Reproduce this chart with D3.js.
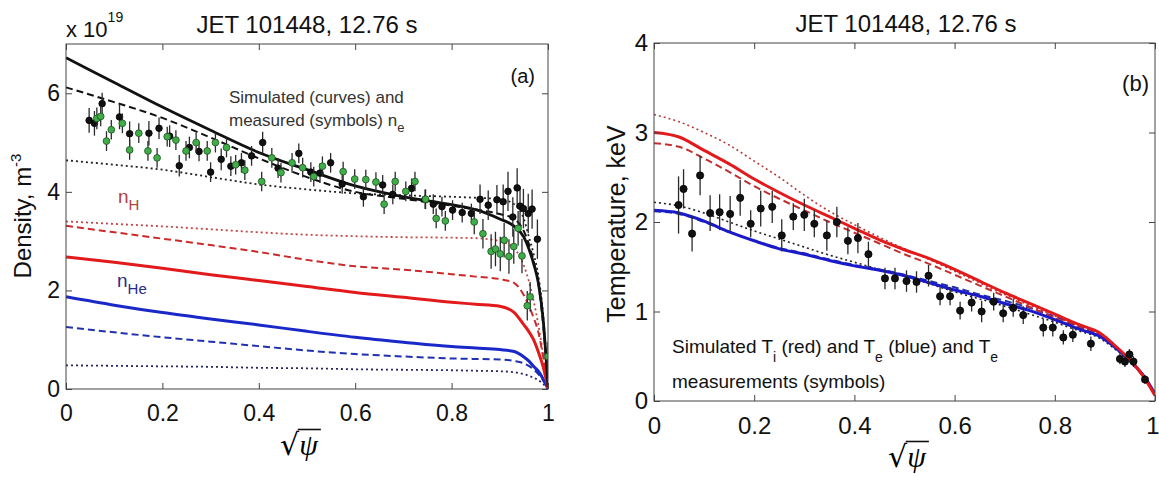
<!DOCTYPE html>
<html>
<head>
<meta charset="utf-8">
<script src="https://cdn.jsdelivr.net/npm/d3@7"></script>
<style>
  html, body { margin: 0; padding: 0; background: #fff; }
  svg { display: block; font-family: "Liberation Sans", Arial, Helvetica, sans-serif; }
</style>
</head>
<body>
<svg id="fig" width="1159" height="477"></svg>
<script>
// ===== DATA: panel (a), densities in 1e19 m^-3 =====
const psiA     = [0, 0.1, 0.2, 0.3, 0.4, 0.5, 0.6, 0.7, 0.8, 0.85, 0.9, 0.93, 0.95, 0.96, 0.97, 0.98, 0.99, 1.0];
const neSolid  = [6.72, 6.22, 5.72, 5.25, 4.80, 4.45, 4.12, 3.90, 3.74, 3.64, 3.45, 3.30, 3.08, 2.85, 2.55, 2.15, 1.40, 0.05];
const neDash   = [6.12, 5.82, 5.50, 5.10, 4.68, 4.30, 4.00, 3.86, 3.72, 3.64, 3.55, 3.45, 3.20, 2.95, 2.60, 2.15, 1.30, 0.05];
const neDot    = [4.64, 4.55, 4.45, 4.30, 4.15, 4.05, 3.97, 3.93, 3.90, 3.88, 3.85, 3.75, 3.45, 3.10, 2.75, 2.30, 1.50, 0.10];
const nHSolid  = [2.68, 2.57, 2.45, 2.32, 2.20, 2.08, 1.96, 1.86, 1.76, 1.72, 1.68, 1.55, 1.30, 1.17, 1.00, 0.75, 0.45, 0.02];
const nHDash   = [3.31, 3.18, 3.05, 2.92, 2.78, 2.62, 2.49, 2.42, 2.33, 2.28, 2.23, 2.15, 1.90, 1.70, 1.45, 1.15, 0.65, 0.02];
const nHDot    = [3.40, 3.35, 3.30, 3.24, 3.18, 3.13, 3.10, 3.08, 3.07, 3.06, 3.00, 2.85, 2.50, 2.20, 1.80, 1.30, 0.70, 0.02];
const nHeSolid = [1.87, 1.70, 1.55, 1.42, 1.30, 1.17, 1.05, 0.95, 0.86, 0.83, 0.80, 0.76, 0.65, 0.57, 0.46, 0.36, 0.20, 0.00];
const nHeDash  = [1.26, 1.15, 1.05, 0.96, 0.87, 0.78, 0.71, 0.66, 0.62, 0.61, 0.60, 0.57, 0.52, 0.47, 0.40, 0.30, 0.17, 0.00];
const nHeDot   = [0.48, 0.47, 0.46, 0.45, 0.43, 0.42, 0.40, 0.39, 0.38, 0.37, 0.36, 0.34, 0.30, 0.27, 0.23, 0.18, 0.10, 0.00];

// measured ne, black symbols
const hrtsX   = [0.048, 0.059, 0.075, 0.111, 0.132, 0.172, 0.193, 0.215, 0.235, 0.256, 0.276, 0.300, 0.322, 0.342,
                 0.364, 0.385, 0.408, 0.440, 0.483, 0.508, 0.527, 0.549, 0.573, 0.617, 0.657, 0.678, 0.717, 0.745,
                 0.762, 0.780, 0.802, 0.822, 0.841, 0.859, 0.876, 0.894, 0.907, 0.917, 0.927, 0.936, 0.942, 0.949,
                 0.959, 0.967, 0.978];
const hrtsY   = [5.45, 5.39, 5.79, 5.52, 5.18, 5.19, 5.29, 5.13, 4.53, 4.90, 4.82, 4.40, 4.66, 4.52,
                 4.59, 4.73, 5.00, 4.48, 4.78, 4.40, 4.38, 4.59, 4.16, 3.90, 4.14, 3.95, 4.07, 3.85,
                 3.75, 3.70, 3.63, 3.58, 3.56, 3.85, 3.73, 3.84, 3.80, 4.01, 3.49, 4.08, 3.71, 3.66,
                 3.56, 3.65, 3.04];
const hrtsErr = [0.25, 0.25, 0.22, 0.25, 0.25, 0.25, 0.22, 0.22, 0.22, 0.22, 0.2, 0.2, 0.22, 0.2,
                 0.2, 0.2, 0.22, 0.2, 0.2, 0.2, 0.2, 0.2, 0.2, 0.2, 0.2, 0.2, 0.2, 0.2,
                 0.2, 0.2, 0.2, 0.2, 0.2, 0.3, 0.3, 0.3, 0.35, 0.4, 0.4, 0.4, 0.4, 0.4,
                 0.4, 0.4, 0.4];

// measured ne, green symbols
const lidarX   = [0.064, 0.072, 0.084, 0.094, 0.117, 0.132, 0.151, 0.170, 0.189, 0.210, 0.228, 0.249, 0.270, 0.293,
                  0.310, 0.333, 0.352, 0.371, 0.406, 0.427, 0.446, 0.469, 0.491, 0.514, 0.532, 0.575, 0.599, 0.622,
                  0.643, 0.660, 0.683, 0.705, 0.724, 0.746, 0.768, 0.787, 0.847, 0.865, 0.882, 0.891, 0.901, 0.909,
                  0.919, 0.929, 0.938, 0.946, 0.957, 0.963, 1.0];
const lidarY   = [5.49, 5.53, 5.03, 5.26, 5.39, 4.85, 5.19, 4.83, 4.69, 5.12, 5.05, 4.83, 5.00, 4.83,
                  5.00, 4.90, 4.55, 4.44, 4.21, 4.69, 4.39, 4.59, 4.49, 4.31, 4.52, 4.41, 4.26, 4.25,
                  4.20, 3.75, 4.21, 4.01, 4.21, 3.85, 3.46, 3.41, 3.39, 3.15, 2.79, 2.84, 2.74, 3.02,
                  2.69, 2.89, 3.26, 2.70, 1.69, 1.87, 0.66];
const lidarErr = [0.22, 0.2, 0.2, 0.2, 0.2, 0.2, 0.2, 0.2, 0.2, 0.2, 0.2, 0.2, 0.2, 0.2,
                  0.2, 0.2, 0.2, 0.2, 0.2, 0.2, 0.2, 0.2, 0.2, 0.2, 0.2, 0.2, 0.2, 0.2,
                  0.2, 0.2, 0.2, 0.2, 0.2, 0.2, 0.2, 0.2, 0.25, 0.3, 0.35, 0.35, 0.35, 0.35,
                  0.35, 0.35, 0.35, 0.35, 0.3, 0.3, 0.3];

// ===== DATA: panel (b), temperatures in keV =====
const psiB    = [0, 0.05, 0.1, 0.15, 0.2, 0.25, 0.3, 0.35, 0.4, 0.45, 0.5, 0.55, 0.6, 0.65, 0.7, 0.75, 0.8, 0.85, 0.89, 0.92, 0.95, 0.98, 1.0];
const tiSolid = [3.00, 2.95, 2.80, 2.65, 2.48, 2.33, 2.19, 2.06, 1.93, 1.80, 1.69, 1.59, 1.47, 1.34, 1.21, 1.09, 0.97, 0.85, 0.76, 0.62, 0.46, 0.25, 0.06];
const tiDash  = [2.88, 2.84, 2.71, 2.56, 2.40, 2.26, 2.13, 2.00, 1.88, 1.76, 1.64, 1.53, 1.41, 1.29, 1.17, 1.05, 0.93, 0.82, 0.73, 0.60, 0.45, 0.24, 0.06];
const tiDot   = [3.20, 3.12, 3.00, 2.86, 2.68, 2.50, 2.30, 2.12, 1.97, 1.83, 1.70, 1.58, 1.45, 1.32, 1.19, 1.07, 0.95, 0.83, 0.74, 0.60, 0.45, 0.24, 0.06];
const teSolid = [2.13, 2.10, 2.01, 1.89, 1.79, 1.70, 1.64, 1.57, 1.51, 1.46, 1.40, 1.32, 1.24, 1.17, 1.09, 1.01, 0.91, 0.80, 0.72, 0.60, 0.45, 0.26, 0.08];
const teDash  = [2.12, 2.09, 2.00, 1.89, 1.79, 1.71, 1.65, 1.58, 1.52, 1.47, 1.41, 1.34, 1.27, 1.19, 1.12, 1.04, 0.94, 0.83, 0.74, 0.61, 0.46, 0.26, 0.08];
const teDot   = [2.22, 2.18, 2.10, 2.00, 1.90, 1.81, 1.72, 1.63, 1.55, 1.47, 1.40, 1.31, 1.22, 1.14, 1.06, 0.97, 0.88, 0.78, 0.70, 0.58, 0.44, 0.25, 0.08];

const teX   = [0.049, 0.059, 0.076, 0.092, 0.112, 0.131, 0.152, 0.172, 0.193, 0.213, 0.236, 0.255, 0.278, 0.300,
               0.320, 0.345, 0.365, 0.387, 0.407, 0.428, 0.461, 0.481, 0.504, 0.524, 0.548, 0.571, 0.591, 0.611,
               0.634, 0.654, 0.678, 0.697, 0.717, 0.737, 0.777, 0.796, 0.817, 0.836, 0.872, 0.930, 0.940, 0.949,
               0.957, 0.980];
const teY   = [2.19, 2.37, 1.87, 2.52, 2.10, 2.11, 2.09, 2.27, 1.98, 2.15, 2.17, 1.85, 2.06, 2.08,
               1.98, 1.85, 2.00, 1.79, 1.82, 1.64, 1.37, 1.37, 1.34, 1.33, 1.40, 1.17, 1.17, 1.01,
               1.10, 1.00, 1.11, 0.98, 1.04, 0.96, 0.82, 0.82, 0.71, 0.74, 0.64, 0.47, 0.44, 0.52,
               0.44, 0.24];
const teErr = [0.32, 0.22, 0.2, 0.22, 0.2, 0.2, 0.2, 0.2, 0.15, 0.2, 0.18, 0.18, 0.15, 0.18,
               0.15, 0.17, 0.17, 0.15, 0.17, 0.14, 0.12, 0.12, 0.12, 0.12, 0.12, 0.1, 0.1, 0.1,
               0.1, 0.12, 0.1, 0.1, 0.1, 0.1, 0.1, 0.1, 0.08, 0.08, 0.08, 0.06, 0.06, 0.06,
               0.06, 0.05];

const ticksX  = [0, 0.2, 0.4, 0.6, 0.8, 1];
const ticksYA = [0, 2, 4, 6];
const ticksYB = [0, 1, 2, 3, 4];

document.addEventListener('DOMContentLoaded', function () {

    var svg = d3.select('#fig');
    var fmt = d3.format('~g');

    var xA = d3.scaleLinear().domain([0, 1]).range([66, 548]);
    var yA = d3.scaleLinear().domain([0, 7]).range([389, 44]);
    var xB = d3.scaleLinear().domain([0, 1]).range([654, 1155]);
    var yB = d3.scaleLinear().domain([0, 4]).range([401, 43]);

    var defs = svg.append('defs');
    [['clipA', xA, yA], ['clipB', xB, yB]].forEach(function (c) {
        defs.append('clipPath').attr('id', c[0]).append('rect')
            .attr('x', c[1].range()[0]).attr('y', c[2].range()[1])
            .attr('width', c[1].range()[1] - c[1].range()[0])
            .attr('height', c[2].range()[0] - c[2].range()[1]);
    });

    // ===== helpers =====
    function drawAxes(x, y, yTicks, fontSize) {
        var g = svg.append('g');
        var x0 = x.range()[0], x1 = x.range()[1];
        var y0 = y.range()[0], y1 = y.range()[1];

        var bottom = g.append('g').attr('transform', 'translate(0,' + y0 + ')')
            .call(d3.axisBottom(x).tickValues(ticksX).tickFormat(fmt).tickSize(-6).tickSizeOuter(0).tickPadding(16));
        var left = g.append('g').attr('transform', 'translate(' + x0 + ',0)')
            .call(d3.axisLeft(y).tickValues(yTicks).tickFormat(fmt).tickSize(-6).tickSizeOuter(0).tickPadding(6));
        g.append('g').attr('transform', 'translate(0,' + y1 + ')')
            .call(d3.axisTop(x).tickValues(ticksX).tickFormat('').tickSize(-6).tickSizeOuter(0));
        g.append('g').attr('transform', 'translate(' + x1 + ',0)')
            .call(d3.axisRight(y).tickValues(yTicks).tickFormat('').tickSize(-6).tickSizeOuter(0));

        g.selectAll('.domain').remove();
        g.selectAll('.tick line').attr('stroke', '#444').attr('stroke-width', 1);
        [bottom, left].forEach(function (a) {
            a.attr('font-family', null).attr('font-size', null);
            a.selectAll('text').style('font-size', fontSize + 'px').attr('fill', '#111');
        });

        // keep the last x label inside the window
        if (x1 > 1150) {
            bottom.selectAll('.tick text').filter(function (d) { return d === 1; })
                .attr('text-anchor', 'end').attr('dx', 4);
        }

        g.append('rect')
            .attr('x', x0).attr('y', y1)
            .attr('width', x1 - x0).attr('height', y0 - y1)
            .attr('fill', 'none').attr('stroke', '#444').attr('stroke-width', 1);
    }

    function drawCurve(layer, x, y, xs, vals, color, width, dash) {
        var line = d3.line()
            .x(function (d) { return x(d[0]); })
            .y(function (d) { return y(d[1]); })
            .curve(d3.curveMonotoneX);
        layer.append('path')
            .datum(d3.zip(xs, vals))
            .attr('d', line)
            .attr('fill', 'none')
            .attr('stroke', color)
            .attr('stroke-width', width)
            .attr('stroke-dasharray', dash || null)
            .attr('stroke-linejoin', 'round');
    }

    function drawPoints(layer, x, y, xs, vals, errs, fill, edge, r) {
        var pts = d3.zip(xs, vals, errs);
        layer.append('g').selectAll('line').data(pts).join('line')
            .attr('x1', function (d) { return x(d[0]); })
            .attr('x2', function (d) { return x(d[0]); })
            .attr('y1', function (d) { return y(d[1] - d[2]); })
            .attr('y2', function (d) { return y(d[1] + d[2]); })
            .attr('stroke', '#2a2a2a').attr('stroke-width', 1.3);
        layer.append('g').selectAll('circle').data(pts).join('circle')
            .attr('cx', function (d) { return x(d[0]); })
            .attr('cy', function (d) { return y(d[1]); })
            .attr('r', r)
            .attr('fill', fill).attr('stroke', edge).attr('stroke-width', 0.8);
    }

    function sqrtPsi(cx, baseline) {
        var g = svg.append('g');
        var root = g.append('text').attr('y', baseline)
            .style('font-family', '"DejaVu Sans", sans-serif').style('font-size', '30px').text('\u221A');
        var psi = g.append('text').attr('y', baseline)
            .style('font-family', '"Liberation Serif", "Times New Roman", serif')
            .style('font-style', 'italic').style('font-size', '30px').text('\u03C8');
        var rw = root.node().getComputedTextLength();
        var pw = psi.node().getComputedTextLength();
        var start = cx - (rw + pw + 2) / 2;
        root.attr('x', start);
        psi.attr('x', start + rw);
        var top = root.node().getBBox().y;
        g.append('line')
            .attr('x1', start + rw - 1.5).attr('x2', start + rw + pw + 3)
            .attr('y1', top + 2.5).attr('y2', top + 2.5)
            .attr('stroke', '#111').attr('stroke-width', 1.6);
    }

    // ===== PANEL (a) =====
    var layA = svg.append('g').attr('clip-path', 'url(#clipA)');

    drawCurve(layA, xA, yA, psiA, nHeDot, '#262660', 1.8, '2,3');
    drawCurve(layA, xA, yA, psiA, nHDot,  '#c24545', 1.8, '2,3');
    drawCurve(layA, xA, yA, psiA, neDot,  '#222',    1.8, '2,3');
    drawCurve(layA, xA, yA, psiA, nHeDash, '#2030b0', 2, '7,4');
    drawCurve(layA, xA, yA, psiA, nHDash,  '#cc2a2a', 2, '7,4');
    drawCurve(layA, xA, yA, psiA, neDash,  '#111',    2, '7,4');
    drawCurve(layA, xA, yA, psiA, nHeSolid, '#1a28c8', 3);
    drawCurve(layA, xA, yA, psiA, nHSolid,  '#e31a1c', 3);
    drawCurve(layA, xA, yA, psiA, neSolid,  '#111',    2.8);

    drawPoints(layA, xA, yA, hrtsX, hrtsY, hrtsErr, '#111', '#000', 3.3);
    drawPoints(layA, xA, yA, lidarX, lidarY, lidarErr, '#3fae49', '#1f4f22', 3.4);

    drawAxes(xA, yA, ticksYA, 23);

    svg.append('text').attr('x', 307).attr('y', 33).attr('text-anchor', 'middle')
        .style('font-size', '24px').attr('fill', '#111').text('JET 101448, 12.76 s');

    var mult = svg.append('text').attr('x', 66).attr('y', 37).style('font-size', '22px').attr('fill', '#111');
    mult.append('tspan').text('x 10');
    mult.append('tspan').attr('dy', -15).style('font-size', '14px').text('19');

    svg.append('text').attr('x', 535).attr('y', 83).attr('text-anchor', 'end')
        .style('font-size', '20px').attr('fill', '#111').text('(a)');

    svg.append('text').attr('x', 229).attr('y', 103)
        .style('font-size', '17px').attr('fill', '#333').text('Simulated (curves) and');
    var ann2 = svg.append('text').attr('x', 229).attr('y', 126)
        .style('font-size', '17px').attr('fill', '#333');
    ann2.append('tspan').text('measured (symbols) n');
    ann2.append('tspan').attr('dy', 6).style('font-size', '13px').text('e');

    var lh = svg.append('text').attr('x', 118).attr('y', 203).attr('fill', '#b3403a').style('font-size', '19px');
    lh.append('tspan').text('n');
    lh.append('tspan').attr('dy', 7).style('font-size', '15px').text('H');

    var lhe = svg.append('text').attr('x', 117).attr('y', 287).attr('fill', '#2a2a8a').style('font-size', '19px');
    lhe.append('tspan').text('n');
    lhe.append('tspan').attr('dy', 7).style('font-size', '15px').text('He');

    var ylabA = svg.append('text').attr('transform', 'translate(31,216) rotate(-90)')
        .attr('text-anchor', 'middle').style('font-size', '24px').attr('fill', '#111');
    ylabA.append('tspan').text('Density, m');
    ylabA.append('tspan').attr('dy', -10).style('font-size', '15px').text('-3');

    sqrtPsi(300, 455);

    // ===== PANEL (b) =====
    var layB = svg.append('g').attr('clip-path', 'url(#clipB)');

    drawCurve(layB, xB, yB, psiB, teDot,  '#222',    1.6, '2,3');
    drawCurve(layB, xB, yB, psiB, tiDot,  '#b83a3a', 1.6, '2,3');
    drawCurve(layB, xB, yB, psiB, teDash, '#2030a8', 2, '7,4');
    drawCurve(layB, xB, yB, psiB, tiDash, '#c03030', 2, '7,4');
    drawCurve(layB, xB, yB, psiB, teSolid, '#1a1ac8', 3);
    drawCurve(layB, xB, yB, psiB, tiSolid, '#e31a1c', 3);

    drawPoints(layB, xB, yB, teX, teY, teErr, '#111', '#000', 3.6);

    drawAxes(xB, yB, ticksYB, 24);

    svg.append('text').attr('x', 906).attr('y', 32).attr('text-anchor', 'middle')
        .style('font-size', '24px').attr('fill', '#111').text('JET 101448, 12.76 s');

    svg.append('text').attr('x', 1149).attr('y', 91).attr('text-anchor', 'end')
        .style('font-size', '22px').attr('fill', '#111').text('(b)');

    var bt = svg.append('text').attr('x', 672).attr('y', 353).style('font-size', '19px').attr('fill', '#111');
    bt.append('tspan').text('Simulated T');
    bt.append('tspan').attr('dy', 9).style('font-size', '14px').text('i');
    bt.append('tspan').attr('dy', -9).text(' (red) and T');
    bt.append('tspan').attr('dy', 9).style('font-size', '14px').text('e');
    bt.append('tspan').attr('dy', -9).text(' (blue) and T');
    bt.append('tspan').attr('dy', 9).style('font-size', '14px').text('e');
    svg.append('text').attr('x', 672).attr('y', 388).style('font-size', '19px').attr('fill', '#111')
        .text('measurements (symbols)');

    svg.append('text').attr('transform', 'translate(625,224) rotate(-90)')
        .attr('text-anchor', 'middle').style('font-size', '25px').attr('fill', '#111')
        .text('Temperature, keV');

    sqrtPsi(908, 467);
});
</script>
</body>
</html>
